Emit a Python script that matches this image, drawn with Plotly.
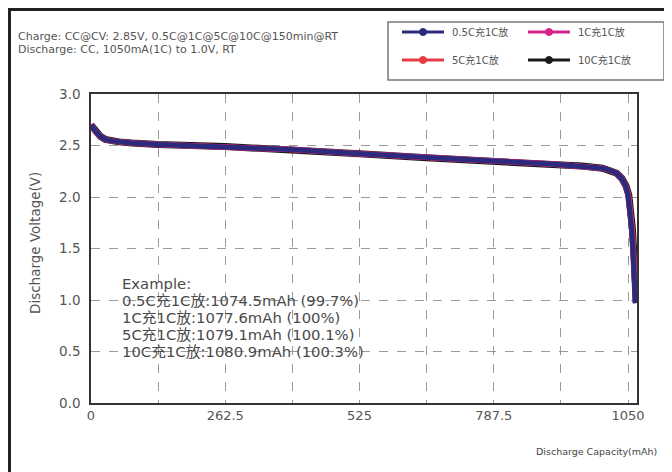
import plotly.graph_objects as go

# ---------------- data ----------------
series_names = ["0.5C充1C放", "1C充1C放", "5C充1C放", "10C充1C放"]
series_colors = ["#2b2a7c", "#d4238c", "#e83a45", "#1a1a1a"]

cap_05 = [0, 4, 10, 18, 28, 40, 55, 80, 131, 262.5, 394, 525, 656, 787.5, 900, 960, 1000, 1015, 1028, 1038, 1045, 1050, 1054, 1057, 1060, 1062, 1064.5]
volt_05 = [2.70, 2.67, 2.63, 2.59, 2.56, 2.545, 2.535, 2.525, 2.51, 2.49, 2.46, 2.42, 2.38, 2.35, 2.32, 2.30, 2.28, 2.26, 2.23, 2.18, 2.11, 2.02, 1.88, 1.70, 1.45, 1.22, 0.97]

cap_1 = [0, 4, 10, 18, 28, 40, 55, 80, 131, 262.5, 394, 525, 656, 787.5, 900, 960, 1000, 1015, 1028, 1038, 1045, 1050.5, 1054.5, 1057.5, 1060.5, 1062.5, 1065]
volt_1 = [2.70, 2.67, 2.63, 2.59, 2.56, 2.545, 2.535, 2.525, 2.51, 2.49, 2.46, 2.42, 2.38, 2.35, 2.32, 2.30, 2.28, 2.26, 2.23, 2.18, 2.11, 2.02, 1.88, 1.70, 1.45, 1.22, 0.97]

cap_5 = [0, 4, 10, 18, 28, 40, 55, 80, 131, 262.5, 394, 525, 656, 787.5, 900, 960, 1000, 1015, 1028, 1038, 1045.5, 1051, 1055, 1058, 1061, 1063, 1065.5]
volt_5 = [2.70, 2.67, 2.63, 2.59, 2.56, 2.545, 2.535, 2.525, 2.51, 2.49, 2.46, 2.42, 2.38, 2.35, 2.32, 2.30, 2.28, 2.26, 2.23, 2.18, 2.11, 2.02, 1.88, 1.70, 1.45, 1.22, 0.97]

cap_10 = [0, 4, 10, 18, 28, 40, 55, 80, 131, 262.5, 394, 525, 656, 787.5, 900, 960, 1000, 1015, 1028, 1038, 1046, 1051.5, 1055.5, 1058.5, 1061.5, 1063.5, 1066]
volt_10 = [2.70, 2.67, 2.63, 2.59, 2.56, 2.545, 2.535, 2.525, 2.51, 2.49, 2.46, 2.42, 2.38, 2.35, 2.32, 2.30, 2.28, 2.26, 2.23, 2.18, 2.11, 2.02, 1.88, 1.70, 1.45, 1.22, 0.97]

x_tickvals = [0, 262.5, 525, 787.5, 1050]
x_ticktext = ["0", "262.5", "525", "787.5", "1050"]
y_tickvals = [0.0, 0.5, 1.0, 1.5, 2.0, 2.5, 3.0]
y_ticktext = ["0.0", "0.5", "1.0", "1.5", "2.0", "2.5", "3.0"]

header_lines = [
    "Charge: CC@CV: 2.85V, 0.5C@1C@5C@10C@150min@RT",
    "Discharge: CC, 1050mA(1C) to 1.0V, RT",
]
example_lines = [
    "Example:",
    "0.5C充1C放:1074.5mAh (99.7%)",
    "1C充1C放:1077.6mAh (100%)",
    "5C充1C放:1079.1mAh (100.1%)",
    "10C充1C放:1080.9mAh (100.3%)",
]

# ---------------- layout geometry ----------------
# The page body adds an 8px margin, so the figure is drawn 8px in from the window's corner.
OFF = 8
W, H = 672 - OFF, 472 - OFF
# plot area in window pixels: left 91, right 637, top 94, bottom 403
L, R, T, B = 91 - OFF, 672 - 637, 94 - OFF, 472 - 403
PW, PH = W - L - R, H - T - B

def px(x):  # window pixel -> paper x
    return (x - OFF - L) / PW

def py(y):  # window pixel -> paper y
    return (H - B - (y - OFF)) / PH

FONT = "DejaVu Sans, Noto Sans CJK SC, sans-serif"

fig = go.Figure()

# data traces (bottom to top)
data = [(cap_10, volt_10, 3, 7.0), (cap_5, volt_5, 2, 5.5), (cap_1, volt_1, 1, 5.5), (cap_05, volt_05, 0, 5.0)]
for xs, ys, idx, w in data:
    fig.add_trace(go.Scatter(x=xs, y=ys, mode="lines", line=dict(color=series_colors[idx], width=w),
                             showlegend=False, hoverinfo="skip"))

annotations = []
shapes = []

# header text
for i, t in enumerate(header_lines):
    annotations.append(dict(text=t, x=px(16), y=py(36 + 13 * i), xref="paper", yref="paper",
                            xanchor="left", yanchor="middle", showarrow=False,
                            font=dict(family=FONT, size=11, color="#555555")))
# example text
for i, t in enumerate(example_lines):
    annotations.append(dict(text=t, x=px(120), y=py(283.5 + 17 * i), xref="paper", yref="paper",
                            xanchor="left", yanchor="middle", showarrow=False,
                            font=dict(family=FONT, size=14.8, color="#4a4a4a")))
# axis titles
annotations.append(dict(text="Discharge Capacity(mAh)", x=px(596), y=py(451), xref="paper", yref="paper",
                        xanchor="center", yanchor="middle", showarrow=False,
                        font=dict(family=FONT, size=9.5, color="#444444")))
annotations.append(dict(text="Discharge Voltage(V)", x=px(35), y=py(243), xref="paper", yref="paper",
                        xanchor="center", yanchor="middle", showarrow=False, textangle=-90,
                        font=dict(family=FONT, size=13.5, color="#555555")))

# legend (drawn box with line+marker samples)
shapes.append(dict(type="rect", xref="paper", yref="paper", x0=px(388), x1=px(664), y0=py(22), y1=py(80),
                   line=dict(color="#777777", width=1.5), fillcolor="white"))
legend_pos = [(402, 32), (528, 32), (402, 60), (528, 60)]
for i, (lx, ly) in enumerate(legend_pos):
    c = series_colors[i]
    shapes.append(dict(type="line", xref="paper", yref="paper", x0=px(lx), x1=px(lx + 42),
                       y0=py(ly), y1=py(ly), line=dict(color=c, width=3)))
    shapes.append(dict(type="circle", xref="paper", yref="paper", x0=px(lx + 17.5), x1=px(lx + 24.5),
                       y0=py(ly + 3.5), y1=py(ly - 3.5), line=dict(color=c, width=1), fillcolor=c))
    annotations.append(dict(text=series_names[i], x=px(lx + 48), y=py(ly), xref="paper", yref="paper",
                            xanchor="left", yanchor="middle", showarrow=False,
                            font=dict(family=FONT, size=10, color="#555555")))

# outer frame
shapes.append(dict(type="line", xref="paper", yref="paper", x0=px(9.5), x1=px(9.5), y0=py(8), y1=py(480),
                   line=dict(color="#222222", width=3)))
shapes.append(dict(type="line", xref="paper", yref="paper", x0=px(8), x1=px(680), y0=py(9.5), y1=py(9.5),
                   line=dict(color="#222222", width=3)))

fig.update_layout(
    width=W, height=H,
    margin=dict(l=L, r=R, t=T, b=B),
    paper_bgcolor="white", plot_bgcolor="white",
    font=dict(family=FONT, color="#555555"),
    annotations=annotations,
    shapes=shapes,
    showlegend=False,
    xaxis=dict(range=[0, 1067.6], tickvals=x_tickvals, ticktext=x_ticktext,
               showgrid=True, gridcolor="#9a9a9a", griddash="dash", gridwidth=1,
               minor=dict(dtick=131.25, tick0=0, showgrid=True, gridcolor="#9a9a9a", griddash="dash", gridwidth=1),
               showline=True, linecolor="#333333", linewidth=1.5, mirror=True,
               ticks="", zeroline=False, automargin=False,
               tickfont=dict(family=FONT, size=13, color="#555555")),
    yaxis=dict(range=[0, 3.0], tickvals=y_tickvals, ticktext=y_ticktext,
               showgrid=True, gridcolor="#9a9a9a", griddash="dash", gridwidth=1,
               showline=True, linecolor="#333333", linewidth=1.5, mirror=True,
               ticks="", zeroline=False, ticklabelstandoff=6, automargin=False,
               tickfont=dict(family=FONT, size=13.5, color="#555555")),
)

fig.write_html("out.html")
